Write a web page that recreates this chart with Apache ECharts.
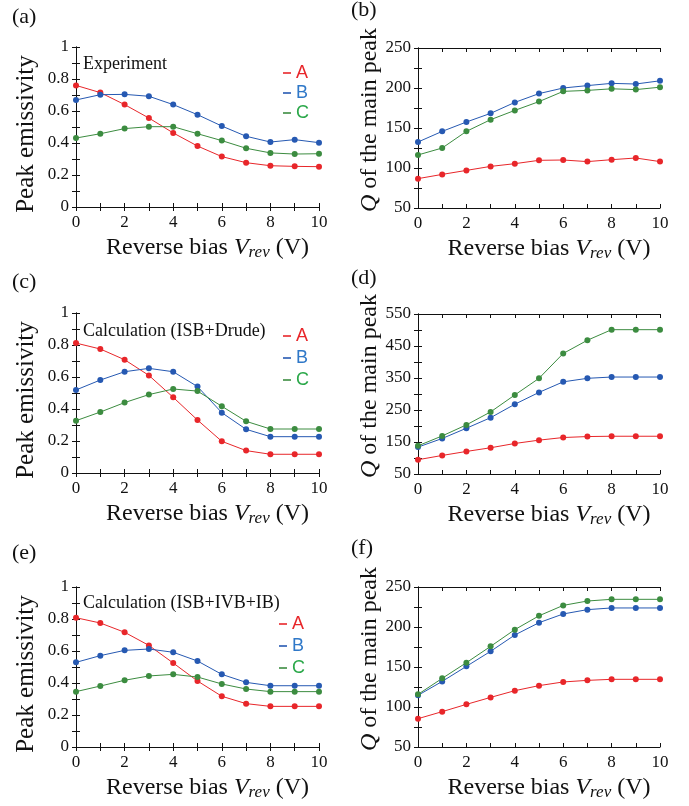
<!DOCTYPE html>
<html>
<head>
<meta charset="utf-8">
<script src="https://cdn.jsdelivr.net/npm/echarts@6/dist/echarts.min.js"></script>
<style>
  html, body { margin: 0; padding: 0; background: #fff; }
  #main { width: 689px; height: 806px; }
</style>
</head>
<body>
<div id="main"></div>
<script>
var chart = echarts.init(document.getElementById('main'));

// reverse bias (V)
var vrev = [0, 1, 2, 3, 4, 5, 6, 7, 8, 9, 10];

// (a) experiment, peak emissivity
var expEmisA = [0.76, 0.715, 0.64, 0.556, 0.463, 0.381, 0.315, 0.277, 0.258, 0.254, 0.252];
var expEmisB = [0.669, 0.702, 0.704, 0.692, 0.64, 0.577, 0.506, 0.442, 0.406, 0.421, 0.402];
var expEmisC = [0.431, 0.458, 0.49, 0.502, 0.502, 0.458, 0.415, 0.367, 0.338, 0.331, 0.333];
// (b) experiment, Q
var expQA = [86.7, 92, 97, 102, 105.4, 109.6, 110, 108, 110.4, 112.5, 108];
var expQB = [132.5, 145.8, 157.5, 168.3, 182, 193, 200, 203, 205.8, 205, 209];
var expQC = [116.3, 125, 145.8, 160.4, 172, 183, 195.8, 197, 199, 198, 201];
// (c) calc ISB+Drude, emissivity
var drudeEmisA = [0.812, 0.775, 0.708, 0.61, 0.473, 0.331, 0.198, 0.14, 0.117, 0.117, 0.117];
var drudeEmisB = [0.519, 0.581, 0.633, 0.654, 0.633, 0.54, 0.377, 0.273, 0.227, 0.227, 0.227];
var drudeEmisC = [0.327, 0.381, 0.44, 0.49, 0.525, 0.512, 0.417, 0.323, 0.275, 0.275, 0.275];
// (d) calc ISB+Drude, Q
var drudeQA = [94.6, 108, 120.5, 132, 145.4, 155.8, 164, 167, 168, 168, 168];
var drudeQB = [134, 161, 193, 226, 268, 305, 338, 349, 353, 353, 353];
var drudeQC = [138, 169, 203.5, 244, 297, 349, 426.6, 468, 501, 501, 501];
// (e) calc ISB+IVB+IB, emissivity
var ivbEmisA = [0.808, 0.775, 0.717, 0.635, 0.525, 0.4125, 0.317, 0.271, 0.254, 0.254, 0.254];
var ivbEmisB = [0.529, 0.571, 0.604, 0.6125, 0.592, 0.5375, 0.454, 0.404, 0.383, 0.383, 0.383];
var ivbEmisC = [0.346, 0.381, 0.417, 0.444, 0.454, 0.4375, 0.394, 0.3625, 0.346, 0.346, 0.346];
// (f) calc ISB+IVB+IB, Q
var ivbQA = [85.4, 94.2, 103.3, 112, 120.4, 126.7, 131.3, 133.3, 134.6, 134.6, 134.6];
var ivbQB = [114.6, 132, 150.8, 169.6, 190, 205.4, 216.3, 221.7, 223.8, 223.8, 223.8];
var ivbQC = [115.8, 135.8, 155.4, 175.8, 196.7, 214, 227, 232.5, 234.6, 234.6, 234.6];

var serif = 'Liberation Serif';
var sans = 'Liberation Sans';
var red = '#e8262a', blue = '#2659b2', green = '#3c8c40';

var panels = [
  {grid: {left: 76, top: 47, width: 243, height: 160}, kind: 'emis', data: [expEmisA, expEmisB, expEmisC]},
  {grid: {left: 418, top: 48, width: 242, height: 160}, kind: 'q250', data: [expQA, expQB, expQC]},
  {grid: {left: 76, top: 313, width: 243, height: 160}, kind: 'emis', data: [drudeEmisA, drudeEmisB, drudeEmisC]},
  {grid: {left: 418, top: 314, width: 242, height: 160}, kind: 'q550', data: [drudeQA, drudeQB, drudeQC]},
  {grid: {left: 76, top: 587, width: 243, height: 160}, kind: 'emis', data: [ivbEmisA, ivbEmisB, ivbEmisC]},
  {grid: {left: 418, top: 587, width: 242, height: 160}, kind: 'q250', data: [ivbQA, ivbQB, ivbQC]}
];

var axisLine = {show: true, lineStyle: {color: '#111', width: 1}};
var tick = {show: true, inside: true, length: 4, lineStyle: {color: '#111', width: 1}};

var grids = [], xAxes = [], yAxes = [], series = [];

panels.forEach(function (p, i) {
  grids.push(Object.assign({show: false}, p.grid));

  xAxes.push({
    type: 'value', gridIndex: i, min: 0, max: 10, interval: 1,
    axisLine: axisLine, axisTick: tick, splitLine: {show: false},
    axisLabel: {
      margin: 7, color: '#111', fontFamily: serif, fontSize: 17,
      formatter: function (v) { return v % 2 === 0 ? String(v) : ''; }
    },
    name: '{n|Reverse bias }{v|V}{s|rev}{n| (V)}',
    nameLocation: 'middle', nameGap: 28,
    nameTextStyle: {
      color: '#111', fontFamily: serif, fontSize: 24, padding: [0, 0, 0, 20],
      rich: {
        n: {fontFamily: serif, fontSize: 24, lineHeight: 26, color: '#111'},
        v: {fontFamily: serif, fontSize: 24, fontStyle: 'italic', lineHeight: 26, color: '#111'},
        s: {fontFamily: serif, fontSize: 17, fontStyle: 'italic', lineHeight: 12, verticalAlign: 'bottom', color: '#111'}
      }
    }
  });
  xAxes.push({
    type: 'value', gridIndex: i, position: 'top', min: 0, max: 10, interval: 1,
    axisLine: axisLine, axisTick: tick, axisLabel: {show: false}, splitLine: {show: false}
  });

  var y = {type: 'value', gridIndex: i, axisLine: axisLine, axisTick: tick, splitLine: {show: false},
    nameLocation: 'middle'};
  var lab = {margin: 7, color: '#111', fontFamily: serif, fontSize: 17};
  if (p.kind === 'emis') {
    y.min = 0; y.max = 1; y.interval = 0.1;
    lab.formatter = function (v) {
      var k = Math.round(v * 10);
      return k % 2 === 0 ? String(k / 10) : '';
    };
    y.name = 'Peak emissivity';
    y.nameGap = 37;
    y.nameTextStyle = {color: '#111', fontFamily: serif, fontSize: 25, padding: [0, 14, 0, 0]};
  } else {
    if (p.kind === 'q250') {
      y.min = 50; y.max = 250; y.interval = 25;
      lab.formatter = function (v) { return v % 50 === 0 ? String(v) : ''; };
    } else {
      y.min = 50; y.max = 550; y.interval = 50;
      lab.formatter = function (v) { return (v - 50) % 100 === 0 ? String(v) : ''; };
    }
    y.name = '{q|Q}{n| of the main peak}';
    y.nameGap = 36;
    y.nameTextStyle = {
      color: '#111', fontFamily: serif, fontSize: 24, padding: [0, 0, 0, 16],
      rich: {
        q: {fontFamily: serif, fontSize: 24, fontStyle: 'italic', color: '#111'},
        n: {fontFamily: serif, fontSize: 24, color: '#111'}
      }
    };
  }
  y.axisLabel = lab;
  yAxes.push(y);
  yAxes.push({
    type: 'value', gridIndex: i, position: 'right', min: y.min, max: y.max, interval: y.interval,
    axisLine: axisLine, axisTick: tick, axisLabel: {show: false}, splitLine: {show: false}
  });

  var names = ['A', 'B', 'C'];
  var colors = [red, blue, green];
  p.data.forEach(function (vals, k) {
    series.push({
      name: names[k], type: 'line', xAxisIndex: 2 * i, yAxisIndex: 2 * i,
      data: vrev.map(function (x, j) { return [x, vals[j]]; }),
      symbol: 'circle', symbolSize: 6,
      itemStyle: {color: colors[k]},
      lineStyle: {color: colors[k], width: 1},
      animation: false, z: 3
    });
  });
});

function legendAt(left, top, gap) {
  return {
    left: left, top: top, orient: 'vertical', itemGap: gap,
    icon: 'rect', itemWidth: 8, itemHeight: 1.6, selectedMode: false,
    textStyle: {fontFamily: sans, fontSize: 18},
    data: [
      {name: 'A', textStyle: {color: red}},
      {name: 'B', textStyle: {color: '#2f78c8'}},
      {name: 'C', textStyle: {color: '#2ba84a'}}
    ]
  };
}

function txt(left, top, s, size) {
  return {type: 'text', left: left, top: top,
    style: {text: s, fontFamily: serif, fontSize: size, fill: '#111'}};
}

var option = {
  backgroundColor: '#fff',
  animation: false,
  grid: grids,
  xAxis: xAxes,
  yAxis: yAxes,
  legend: [legendAt(278, 59, 2), legendAt(278, 322, 4), legendAt(274, 610, 4)],
  graphic: [
    txt(12, 6, '(a)', 22),
    txt(351, -1, '(b)', 22),
    txt(12, 271, '(c)', 22),
    txt(351, 267, '(d)', 22),
    txt(12, 542, '(e)', 22),
    txt(351, 537, '(f)', 22),
    txt(83, 55, 'Experiment', 18),
    txt(83, 322, 'Calculation (ISB+Drude)', 18),
    txt(83, 594, 'Calculation (ISB+IVB+IB)', 18)
  ],
  series: series
};

chart.setOption(option);
</script>
</body>
</html>
